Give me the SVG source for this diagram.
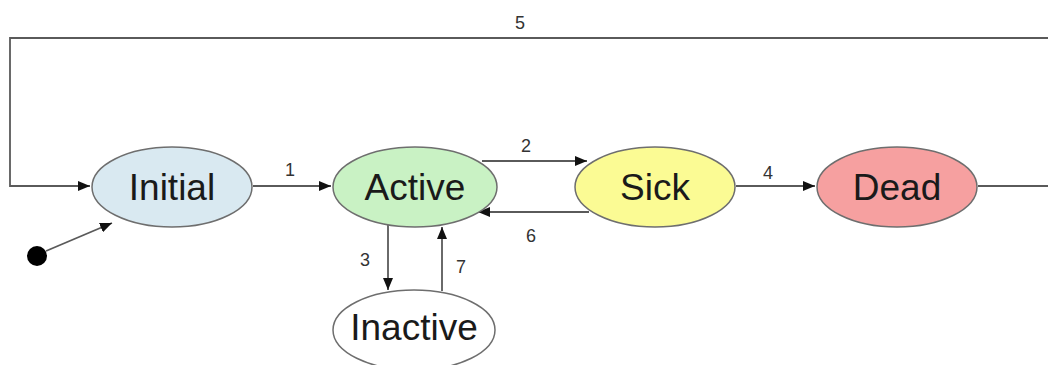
<svg xmlns="http://www.w3.org/2000/svg" width="1048" height="365" viewBox="0 0 1048 365">
  <style>
    .state { stroke: #6e6e6e; stroke-width: 1.5; }
    .name { font-family: "Liberation Sans", Arial, sans-serif; font-size: 37px; fill: #1a1a1a; text-anchor: middle; }
    .edge { fill: none; stroke: #5a5a5a; stroke-width: 1.8; }
    .num { font-family: "Liberation Sans", Arial, sans-serif; font-size: 18px; fill: #333; text-anchor: middle; }
  </style>
  <defs>
    <marker id="arrow" viewBox="0 0 12 10" refX="12" refY="5" markerWidth="12" markerHeight="10" markerUnits="userSpaceOnUse" orient="auto">
      <path d="M0,0 L12,5 L0,10 Z" fill="#111"/>
    </marker>
  </defs>
  <rect width="1048" height="365" fill="#fff"/>

  <g id="connectors">
    <!-- 5: Dead back round the top to Initial -->
    <polyline class="edge" points="978,186 1048,186"/>
    <polyline class="edge" points="1048,38 10,38 10,186 90,186" marker-end="url(#arrow)"/>
    <!-- start pseudostate -->
    <line class="edge" x1="46" y1="251" x2="112" y2="223" marker-end="url(#arrow)"/>
    <!-- 1 -->
    <line class="edge" x1="253" y1="186" x2="331" y2="186" marker-end="url(#arrow)"/>
    <!-- 2 -->
    <line class="edge" x1="482" y1="161" x2="587" y2="161" marker-end="url(#arrow)"/>
    <!-- 6 -->
    <line class="edge" x1="589" y1="212" x2="478" y2="212" marker-end="url(#arrow)"/>
    <!-- 4 -->
    <line class="edge" x1="736" y1="186" x2="815" y2="186" marker-end="url(#arrow)"/>
    <!-- 3 -->
    <line class="edge" x1="388" y1="225" x2="388" y2="290" marker-end="url(#arrow)"/>
    <!-- 7 -->
    <line class="edge" x1="442" y1="291" x2="442" y2="227" marker-end="url(#arrow)"/>

    <text class="num" x="520" y="29">5</text>
    <text class="num" x="290" y="176">1</text>
    <text class="num" x="526" y="152">2</text>
    <text class="num" x="531" y="242">6</text>
    <text class="num" x="768" y="179">4</text>
    <text class="num" x="365" y="266">3</text>
    <text class="num" x="461" y="273">7</text>
  </g>

  <g id="start">
    <circle cx="37" cy="256" r="10" fill="#000"/>
  </g>

  <g id="initial">
    <ellipse class="state" cx="172" cy="187" rx="80" ry="40" fill="#d9e9f1"/>
    <text class="name" x="172" y="200">Initial</text>
  </g>

  <g id="active">
    <ellipse class="state" cx="415" cy="187" rx="82" ry="40" fill="#c9f2c4"/>
    <text class="name" x="415" y="200">Active</text>
  </g>

  <g id="sick">
    <ellipse class="state" cx="655" cy="187" rx="80" ry="40" fill="#fbfb94"/>
    <text class="name" x="655" y="200">Sick</text>
  </g>

  <g id="dead">
    <ellipse class="state" cx="897" cy="187" rx="80" ry="40" fill="#f6a0a0"/>
    <text class="name" x="897" y="200">Dead</text>
  </g>

  <g id="inactive">
    <ellipse class="state" cx="414" cy="330" rx="81" ry="40" fill="#fff"/>
    <text class="name" x="414" y="340">Inactive</text>
  </g>
</svg>
